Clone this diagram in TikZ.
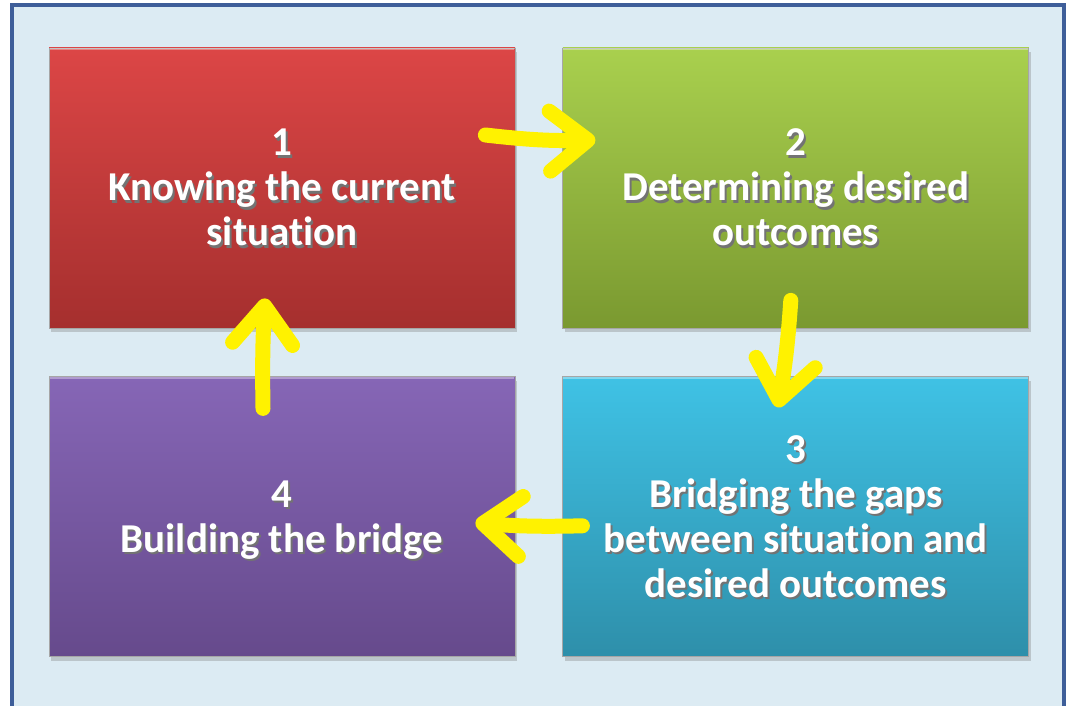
\documentclass[tikz,border=0pt]{standalone}
\usepackage{fontspec}
\setmainfont{Carlito}[Ligatures=NoCommon]
\usepackage{tikz}
\usetikzlibrary{arrows.meta, positioning, calc, shadows}
\definecolor{framblue}{HTML}{3E5E99}
\definecolor{paleblue}{HTML}{DCEBF3}
\definecolor{redtop}{HTML}{DC4646}
\definecolor{redbot}{HTML}{A52F2E}
\definecolor{greentop}{HTML}{A9D04E}
\definecolor{greenbot}{HTML}{7A9930}
\definecolor{bluetop}{HTML}{3FC2E5}
\definecolor{bluebot}{HTML}{2E8FAA}
\definecolor{purptop}{HTML}{8666B6}
\definecolor{purpbot}{HTML}{664A8C}
\definecolor{arrowyellow}{HTML}{FFF200}

% white caption set over a dark copy of itself
\newcommand{\shadowcap}[1]{%
  \rlap{\hspace{2pt}\raisebox{-2.5pt}{\color{black!55}\begin{tabular}{@{}c@{}}#1\end{tabular}}}%
  \begin{tabular}{@{}c@{}}#1\end{tabular}}

\begin{document}
\begin{tikzpicture}[x=1pt, y=1pt,
  stage/.style={rectangle, minimum width=466pt, minimum height=280pt, inner sep=0pt,
    draw=black!35, line width=0.8pt,
    drop shadow={shadow xshift=2pt, shadow yshift=-4pt, opacity=0.35}},
  caption/.style={font=\fontsize{41}{45}\selectfont\bfseries, text=white, yshift=-5pt},
  yarrow/.style={arrowyellow, line width=15pt, line cap=round, line join=round,
    -{Straight Barb[length=38pt, width=60pt, round]},
    preaction={draw=black, opacity=0.25, transform canvas={shift={(3pt,-3pt)}}}},
]
\useasboundingbox (0,0) rectangle (1070,705);

% Frame
\draw[framblue, line width=4pt, fill=paleblue] (12,-10) rectangle (1064,700);

% Stages
\node[stage, top color=redtop, bottom color=redbot] (red) at (282,517) {};
\node[stage, top color=greentop, bottom color=greenbot, right=47pt of red] (green) {};
\node[stage, top color=bluetop, bottom color=bluebot, below=48pt of green] (blue) {};
\node[stage, top color=purptop, bottom color=purpbot, left=47pt of blue] (purple) {};

% Highlight along the top edges
\foreach \stg in {red, green, blue, purple}
  \draw[white, opacity=0.35, line width=2pt] ([xshift=1pt,yshift=-1.5pt]\stg.north west) -- ([xshift=-1pt,yshift=-1.5pt]\stg.north east);

% Captions
\foreach \stg/\txt in {red/{1\\Knowing the current\\situation},
    green/{2\\Determining desired\\outcomes},
    blue/{3\\Bridging the gaps\\between situation and\\desired outcomes},
    purple/{4\\Building the bridge}}
  \node[caption] (\stg-text) at (\stg.center) {\shadowcap{\txt}};

% Cycle arrows
\draw[yarrow] ([shift={(-30,53)}]red.east) to[bend right=4] ([shift={(33,48)}]green.west);
\draw[yarrow] ([shift={(-5,28)}]green.south) to[bend left=3] ([shift={(-18,-31)}]blue.north);
\draw[yarrow] ([shift={(20,-9)}]blue.west) to[bend left=3] ([shift={(-40,-6)}]purple.east);
\draw[yarrow] ([shift={(-19,-32)}]purple.north) to[bend left=2] ([shift={(-17,30)}]red.south);

\end{tikzpicture}
\end{document}
